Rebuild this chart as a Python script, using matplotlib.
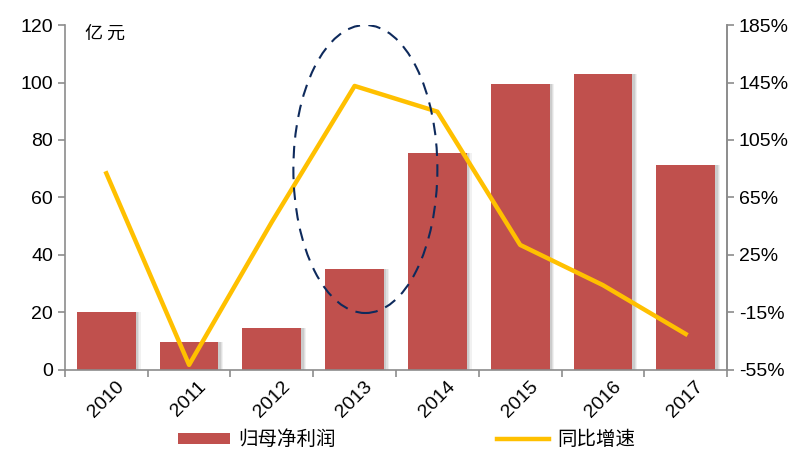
import numpy as np
import matplotlib
matplotlib.use("Agg")
import matplotlib.pyplot as plt
from matplotlib.patches import Ellipse, Patch
from matplotlib.lines import Line2D

plt.rcParams['font.family'] = ['Liberation Sans Narrow', 'Liberation Sans', 'Noto Sans CJK SC', 'DejaVu Sans']

years = ['2010', '2011', '2012', '2013', '2014', '2015', '2016', '2017']
profit = [20.3, 9.7, 14.5, 35.1, 75.6, 99.6, 102.8, 71.4]      # 归母净利润, 亿元
growth = [81.8, -51.5, 48.0, 142.6, 124.7, 32.0, 4.0, -30.0]   # 同比增速, %

bar_color = '#C0504D'
line_color = '#FFC000'
spine_color = '#8C8C8C'
cjk = ['Noto Sans CJK SC', 'DejaVu Sans']

fig = plt.figure(figsize=(7.92, 4.55), dpi=100)
ax = fig.add_axes([0.082, 0.187, 0.836, 0.758])
x = np.arange(len(years))

# soft shadow to the right of each bar
for off, a in [(0.06, 0.10), (0.045, 0.15), (0.03, 0.2)]:
    ax.bar(x + off, profit, width=0.71, color='#7F7F7F', alpha=a, zorder=1, linewidth=0)
ax.bar(x, profit, width=0.71, color=bar_color, zorder=2, linewidth=0)

ax.set_xlim(-0.5, len(years) - 0.5)
ax.set_ylim(0, 120)
ax.set_yticks(np.arange(0, 121, 20))
ax.set_xticks(np.arange(-0.5, len(years), 1.0), minor=False)
ax.set_xticklabels([])
ax.set_xticks(x, minor=True)
ax.set_xticklabels(years, minor=True, rotation=45, fontsize=14)
ax.tick_params(axis='x', which='minor', length=0, pad=6)
ax.tick_params(axis='x', which='major', length=5, color=spine_color, width=1.2)
ax.tick_params(axis='y', length=5, color=spine_color, width=1.2, labelsize=14)
for lbl in ax.get_xticklabels(minor=True):
    lbl.set_ha('center')

for s in ['top']:
    ax.spines[s].set_visible(False)
for s in ['left', 'bottom', 'right']:
    ax.spines[s].set_color(spine_color)
    ax.spines[s].set_linewidth(1.2)

ax.text(0.03, 1.0, '亿 元', transform=ax.transAxes, fontsize=13,
        family=cjk, va='top', ha='left')

ax2 = ax.twinx()
ax2.plot(x, growth, color=line_color, linewidth=3.2, zorder=3)
ax2.set_ylim(-55, 185)
ax2.set_yticks(np.arange(-55, 186, 40))
ax2.set_yticklabels(['%d%%' % v for v in np.arange(-55, 186, 40)])
ax2.tick_params(axis='y', length=5, color=spine_color, width=1.2, labelsize=14)
for s in ['top', 'left', 'bottom']:
    ax2.spines[s].set_visible(False)
ax2.spines['right'].set_color(spine_color)
ax2.spines['right'].set_linewidth(1.2)

# dashed ellipse around 2013
ell = Ellipse((3.13, 69.9), 1.74, 100.2, transform=ax.transData, fill=False,
              edgecolor='#0E2A5C', linestyle=(0, (6, 4)), linewidth=1.5, zorder=5)
ax2.add_patch(ell)

handles = [Patch(facecolor=bar_color, edgecolor='none'),
           Line2D([], [], color=line_color, linewidth=3.2)]
fig.legend(handles, ['归母净利润', '同比增速'], loc='lower center', ncol=2,
           bbox_to_anchor=(0.513, -0.028), frameon=False, handlelength=2.7,
           handleheight=0.45, handletextpad=0.4, columnspacing=8.3,
           prop={'family': cjk, 'size': 14})

fig.savefig('out.png', dpi=100)
